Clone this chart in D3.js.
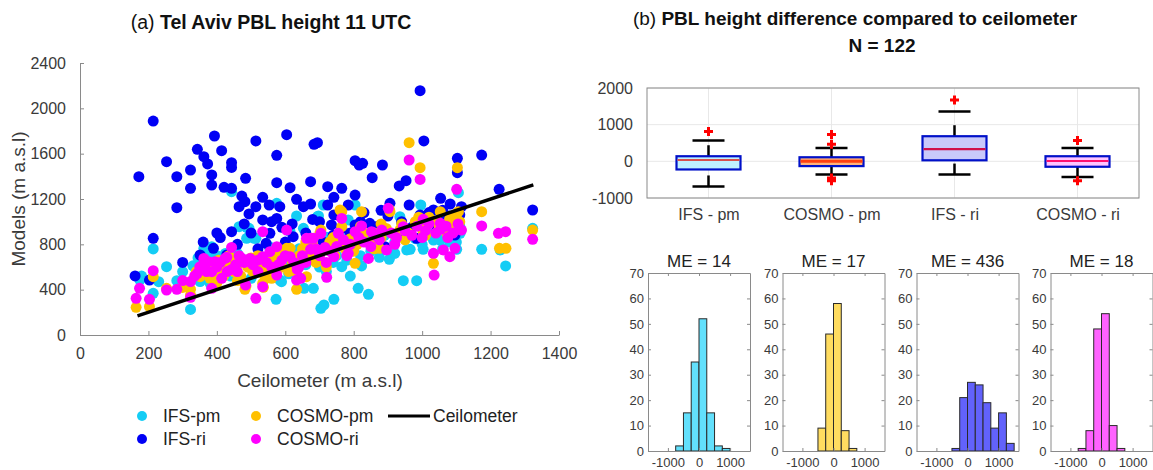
<!DOCTYPE html>
<html>
<head>
<meta charset="utf-8">
<script src="https://cdn.jsdelivr.net/npm/d3@7"></script>
<style>
  body { margin: 0; background: #fff; }
  svg { font-family: "Liberation Sans", Arial, sans-serif; }
</style>
</head>
<body>
<div id="chart"></div>
<script>

//-- Scatter data: [ceilometer, model] in m a.s.l
var ifsPm = [[175,485],[214,759],[214,368],[253,603],[283,479],[323,226],[351,471],[362,765],[385,779],[400,515],
  [365,529],[380,456],[443,1265],[465,956],[487,950],[494,941],[487,853],[509,853],[514,853],[553,779],
  [575,1162],[573,315],[584,485],[589,470],[614,912],[633,1050],[653,941],[655,412],[682,412],[694,1044],
  [697,1050],[704,235],[713,265],[711,1147],[721,862],[742,315],[765,912],[765,603],[784,1015],[804,1147],
  [813,412],[823,609],[843,359],[875,686],[904,668],[935,1044],[945,479],[955,750],[965,756],[984,479],
  [996,1147],[1003,756],[1033,838],[1052,838],[1072,897],[1101,756],[1106,1256],[1111,897],[1174,756],[1228,750],
  [1244,609],[1323,941],[300,560],[330,610],[345,680],[372,700],[395,640],[410,580],[425,720],[455,600],
  [470,680],[500,640],[525,700],[540,560],[560,660],[600,620],[620,700],[640,760],[660,620],[690,720],
  [730,780],[750,700],[770,820],[800,760],[830,860],[860,800],[890,880],[920,820],[960,900],[1010,940],
  [1050,980],[1090,940],[1100,1000],[520,600],[440,520],[350,560],[610,540],[700,600],[780,660],[850,740],
  [920,720],[980,850],[1040,900],[1080,820],[1110,960],[460,720],[400,700],[560,720],[670,800],[740,640],
  [820,700],[880,780],[1000,800],[1060,760],[1100,820],[290,420],[230,470],[180,520],[500,500],[620,580],
  [720,560],[790,520]];

var ifsRi = [[161,521],[172,1397],[214,1888],[214,853],[203,485],[253,1529],[283,1397],[283,1123],[323,1456],[323,1294],
  [343,1638],[362,1573],[373,1509],[385,1412],[385,1323],[393,1756],[414,1626],[421,1303],[443,1294],[443,1520],
  [443,1479],[443,912],[473,1226],[482,1176],[484,1382],[465,1132],[494,1068],[514,1712],[514,1132],[534,1215],
  [534,1015],[553,1147],[575,1585],[575,1344],[575,1029],[584,1132],[604,1768],[614,1300],[633,1197],[643,688],
  [653,1132],[674,1353],[674,1156],[684,1682],[694,1697],[724,1309],[724,1147],[742,1215],[742,1059],[765,1294],
  [784,1147],[804,1235],[804,1538],[816,1500],[826,1515],[804,971],[854,1388],[884,1500],[906,1162],[933,1315],
  [953,1362],[962,1147],[994,2156],[1005,1712],[994,1059],[984,853],[1033,1103],[1054,1206],[1082,1156],[1103,1559],
  [1103,1432],[1115,1132],[1096,1015],[1096,882],[1174,1588],[1225,1285],[1323,1103],[429,706],[390,765],[351,706],
  [544,809],[555,897],[623,868],[735,971],[765,941],[847,985],[891,779],[945,868],[1062,1015],[1043,926],
  [643,662],[300,640],[360,820],[410,860],[460,800],[500,900],[520,760],[590,950],[600,820],[660,900],
  [700,1000],[710,820],[760,1050],[790,900],[830,1080],[870,960],[900,1050],[940,1000],[970,950],[1010,1000],
  [1060,1100],[1080,1050],[1110,1060],[480,980],[560,1000],[680,1020],[820,1000],[880,1100],[1020,1080],[620,980],
  [400,900],[740,880]];

var cosmoPm = [[164,244],[203,250],[214,515],[253,412],[323,353],[323,403],[351,515],[385,515],[382,618],[443,632],
  [443,647],[482,403],[485,432],[514,632],[534,456],[536,421],[553,632],[565,632],[575,544],[604,765],
  [614,765],[633,403],[662,515],[701,897],[704,926],[716,632],[760,1103],[765,1088],[765,956],[804,632],
  [823,1088],[875,765],[904,1109],[906,1088],[935,926],[962,1697],[994,1476],[1003,912],[1033,632],[1053,1088],
  [1072,897],[1103,1476],[1106,1088],[1174,1088],[1226,765],[1245,765],[1323,926],[300,420],[340,560],[360,600],
  [370,640],[395,560],[405,660],[420,600],[435,700],[450,560],[460,620],[475,660],[490,600],[505,560],
  [520,700],[530,650],[545,600],[560,700],[580,680],[590,600],[600,720],[620,650],[640,700],[650,760],
  [670,720],[680,800],[690,640],[720,760],[730,820],[745,700],[755,800],[775,760],[790,850],[810,800],
  [830,900],[850,820],[860,900],[880,860],[895,940],[920,880],[940,980],[960,900],[980,1000],[1000,960],
  [1020,1040],[1045,1000],[1060,960],[1080,1020],[1090,980],[1100,1040],[1110,1000],[470,520],[400,460],[560,500],
  [610,560],[700,700],[800,740],[860,760],[950,840],[1010,880],[1080,920],[720,600],[630,560],[540,520],
  [460,480],[380,500],[420,520],[500,680],[580,760],[660,820],[740,860],[820,960],[880,980],[1050,940],
  [1095,1060],[990,1040]];

var cosmoRi = [[164,324],[174,412],[203,315],[214,568],[253,397],[283,403],[323,332],[323,471],[343,544],[362,676],
  [359,618],[375,647],[385,412],[385,559],[394,647],[414,500],[424,676],[429,686],[443,773],[443,579],
  [473,676],[473,662],[484,441],[497,676],[514,324],[534,912],[534,691],[534,426],[555,735],[575,779],
  [575,529],[604,926],[614,691],[633,485],[635,579],[645,500],[662,853],[674,853],[682,853],[674,756],
  [704,897],[716,773],[721,509],[742,691],[755,897],[765,1029],[784,721],[804,912],[823,962],[843,676],
  [852,912],[882,926],[901,1118],[896,750],[945,956],[962,1544],[994,1373],[1003,1021],[1033,721],[1035,529],
  [1053,985],[1054,932],[1062,750],[1081,691],[1096,765],[1101,1285],[1111,932],[1115,926],[1174,962],[1223,897],
  [1244,912],[1323,844],[300,480],[335,520],[350,600],[370,560],[400,600],[410,640],[430,560],[455,620],
  [465,700],[480,640],[505,620],[520,660],[545,640],[560,600],[590,660],[600,700],[625,640],[650,700],
  [660,640],[690,760],[700,700],[730,740],[750,780],[770,840],[790,800],[815,860],[830,820],[860,880],
  [875,840],[910,900],[925,860],[950,920],[970,880],[985,960],[1010,920],[1020,980],[1040,900],[1070,960],
  [1090,900],[1105,980],[460,560],[520,560],[580,620],[640,600],[720,640],[780,700],[850,780],[920,800],
  [1000,860],[1075,860]];

var ceilRange = [168, 1325];

//-- Box plot data (model - ceilometer)
var boxLabels = ["IFS - pm", "COSMO - pm", "IFS - ri", "COSMO - ri"];
var boxLow    = [-685, -361, -361, -426];
var boxQ1     = [-222, -130,   28, -148];
var boxMedian = [  37,    0,  333,    9];
var boxQ3     = [ 139,  111,  685,  139];
var boxHigh   = [ 565,  361, 1361,  361];
var boxOutliers = [[815], [731, 463, -454, -490, -528], [1676], [565, -528]];

//-- Histogram data (bin width 250)
var histMe = [14, 17, 436, 18];
var histStart = [-750, -500, -500, -750];
var histCounts = [[2, 15, 35, 52, 15, 2, 1],
                  [9, 46, 58, 8, 1],
                  [1, 21, 27, 26, 19, 9, 15, 3],
                  [1, 8, 48, 54, 10, 1]];
var binWidth = 250;

//-- Colors (scatter order: IFS-pm, IFS-ri, COSMO-pm, COSMO-ri; panel order: IFS-pm, COSMO-pm, IFS-ri, COSMO-ri)
var dotColors  = ["#14cdf5", "#0000f5", "#ffc000", "#ff00ff"];
var histColors = ["#62e0fc", "#ffdc60", "#6262fb", "#ff62ff"];
var boxFills   = ["#bff1ff", "#ffb37a", "#c9c9fa", "#ffc4ff"];
var medColors  = ["#d8504c", "#ff4010", "#d0104a", "#ff1070"];

var axisCol = "#8a8a8a", textCol = "#3a3a3a";
var plain = function(d) { return String(d); };

var svg = d3.select("#chart").append("svg")
  .attr("width", 1153).attr("height", 470);

//-- Titles
var t1 = svg.append("text").attr("x", 271).attr("y", 29)
  .attr("text-anchor", "middle").style("font-size", "19.5px").attr("fill", "#111");
t1.append("tspan").text("(a) ");
t1.append("tspan").style("font-weight", "bold").text("Tel Aviv PBL height 11 UTC");

var t2 = svg.append("text").attr("x", 855).attr("y", 25)
  .attr("text-anchor", "middle").style("font-size", "19px").attr("fill", "#111");
t2.append("tspan").text("(b) ");
t2.append("tspan").style("font-weight", "bold").text("PBL height difference compared to ceilometer");

svg.append("text").attr("x", 882).attr("y", 52)
  .attr("text-anchor", "middle").style("font-size", "19px").style("font-weight", "bold")
  .attr("fill", "#111").text("N = 122");

//-- Scatter panel
var sx = d3.scaleLinear().domain([0, 1400]).range([80, 559]);
var sy = d3.scaleLinear().domain([0, 2400]).range([335, 63]);

var gx = svg.append("g").attr("transform", "translate(0,335)")
  .call(d3.axisBottom(sx).tickValues(d3.range(0, 1401, 200)).tickFormat(plain)
    .tickSizeInner(-4).tickSizeOuter(0).tickPadding(13));
var gy = svg.append("g").attr("transform", "translate(80,0)")
  .call(d3.axisLeft(sy).tickValues(d3.range(0, 2401, 400)).tickFormat(plain)
    .tickSizeInner(-4).tickSizeOuter(0).tickPadding(14));
[gx, gy].forEach(function(g) {
  g.selectAll("path, line").attr("stroke", axisCol);
  g.selectAll("text").attr("fill", textCol).style("font-size", "16px");
});

svg.append("text").attr("x", 320).attr("y", 387).attr("text-anchor", "middle")
  .style("font-size", "19px").attr("fill", textCol).text("Ceilometer (m a.s.l)");
svg.append("text").attr("transform", "translate(25,199) rotate(-90)")
  .attr("text-anchor", "middle").style("font-size", "19px").attr("fill", textCol)
  .text("Models (m a.s.l)");

var series = [ifsPm, ifsRi, cosmoPm, cosmoRi];
series.forEach(function(s, i) {
  svg.append("g").selectAll("circle").data(s).enter().append("circle")
    .attr("cx", function(d) { return sx(d[0]); })
    .attr("cy", function(d) { return sy(d[1]); })
    .attr("r", 5.5)
    .attr("fill", dotColors[i]);
});

svg.append("line")
  .attr("x1", sx(ceilRange[0])).attr("y1", sy(ceilRange[0]))
  .attr("x2", sx(ceilRange[1])).attr("y2", sy(ceilRange[1]))
  .attr("stroke", "#000").attr("stroke-width", 3.5);

//-- Legend
var legNames = ["IFS-pm", "IFS-ri", "COSMO-pm", "COSMO-ri"];
var legX = [142, 142, 256, 256], legY = [416, 439, 416, 439];
legNames.forEach(function(n, i) {
  svg.append("circle").attr("cx", legX[i]).attr("cy", legY[i]).attr("r", 5).attr("fill", dotColors[i]);
  svg.append("text").attr("x", legX[i] + 21).attr("y", legY[i] + 6)
    .style("font-size", "17.5px").attr("fill", "#222").text(n);
});
svg.append("line").attr("x1", 388).attr("x2", 430).attr("y1", 416).attr("y2", 416)
  .attr("stroke", "#000").attr("stroke-width", 3);
svg.append("text").attr("x", 433).attr("y", 422)
  .style("font-size", "17.5px").attr("fill", "#222").text("Ceilometer");

//-- Box plot panel
var bx = d3.scaleLinear().domain([0.5, 4.5]).range([647, 1139]);
var by = d3.scaleLinear().domain([-1000, 2000]).range([198, 88]);
var bg = svg.append("g");

bg.selectAll("line.hgrid").data(d3.range(-1000, 2001, 1000)).enter().append("line")
  .attr("x1", 647).attr("x2", 1139)
  .attr("y1", function(d) { return by(d); }).attr("y2", function(d) { return by(d); })
  .attr("stroke", "#e8e8e8");
bg.selectAll("line.vgrid").data(boxLabels).enter().append("line")
  .attr("x1", function(d, i) { return bx(i + 1); }).attr("x2", function(d, i) { return bx(i + 1); })
  .attr("y1", 88).attr("y2", 198).attr("stroke", "#e8e8e8");

bg.append("rect").attr("x", 647).attr("y", 88).attr("width", 492).attr("height", 110)
  .attr("fill", "none").attr("stroke", axisCol);

var gby = bg.append("g").attr("transform", "translate(647,0)")
  .call(d3.axisLeft(by).tickValues(d3.range(-1000, 2001, 1000)).tickFormat(plain)
    .tickSize(0).tickPadding(14));
gby.select("path").remove();
gby.selectAll("text").attr("fill", textCol).style("font-size", "16px");

var gbx = bg.append("g").attr("transform", "translate(0,198)")
  .call(d3.axisBottom(bx).tickValues([1, 2, 3, 4]).tickSize(0).tickPadding(11)
    .tickFormat(function(d) { return boxLabels[d - 1]; }));
gbx.select("path").remove();
gbx.selectAll("text").attr("fill", textCol).style("font-size", "16px");

var boxHalf = 32, capHalf = 16;
boxLabels.forEach(function(n, i) {
  var cx = bx(i + 1);
  // whiskers, dashed, drawn from bottom to top
  [[boxQ3[i], boxHigh[i]], [boxLow[i], boxQ1[i]]].forEach(function(w) {
    bg.append("line").attr("x1", cx).attr("x2", cx)
      .attr("y1", by(w[0])).attr("y2", by(w[1]))
      .attr("stroke", "#000").attr("stroke-width", 2.5).attr("stroke-dasharray", "11,14");
  });
  [boxLow[i], boxHigh[i]].forEach(function(v) {
    bg.append("line").attr("x1", cx - capHalf).attr("x2", cx + capHalf)
      .attr("y1", by(v)).attr("y2", by(v))
      .attr("stroke", "#000").attr("stroke-width", 2.5);
  });
  bg.append("rect").attr("x", cx - boxHalf).attr("y", by(boxQ3[i]))
    .attr("width", boxHalf * 2).attr("height", by(boxQ1[i]) - by(boxQ3[i]))
    .attr("fill", boxFills[i]).attr("stroke", "#0010c8").attr("stroke-width", 2.2);
  bg.append("line").attr("x1", cx - boxHalf + 1).attr("x2", cx + boxHalf - 1)
    .attr("y1", by(boxMedian[i])).attr("y2", by(boxMedian[i]))
    .attr("stroke", medColors[i]).attr("stroke-width", i == 1 ? 3 : 2.2);
  bg.selectAll(null).data(boxOutliers[i]).enter().append("path")
    .attr("d", function(d) {
      var y = by(d);
      return "M" + (cx - 4.5) + "," + y + "H" + (cx + 4.5) + "M" + cx + "," + (y - 4.5) + "V" + (y + 4.5);
    })
    .attr("stroke", "#ff0000").attr("stroke-width", 3);
});

//-- Histogram panels
var panelLeft = [648, 782.5, 916.5, 1050.5], panelW = 102;
var hy = d3.scaleLinear().domain([0, 70]).range([451, 273]);

histCounts.forEach(function(counts, p) {
  var hx = d3.scaleLinear().domain([-1640, 1640]).range([panelLeft[p], panelLeft[p] + panelW]);
  var g = svg.append("g");

  g.selectAll("rect").data(counts).enter().append("rect")
    .attr("x", function(d, i) { return hx(histStart[p] + i * binWidth); })
    .attr("y", function(d) { return hy(d); })
    .attr("width", function(d, i) { return hx(histStart[p] + (i + 1) * binWidth) - hx(histStart[p] + i * binWidth); })
    .attr("height", function(d) { return hy(0) - hy(d); })
    .attr("fill", histColors[p]).attr("stroke", "#2a2a2a").attr("stroke-width", 1);

  var yl = g.append("g").attr("transform", "translate(" + panelLeft[p] + ",0)")
    .call(d3.axisLeft(hy).tickValues(d3.range(0, 71, 10)).tickFormat(plain)
      .tickSizeInner(-3).tickSizeOuter(0).tickPadding(4));
  var yr = g.append("g").attr("transform", "translate(" + (panelLeft[p] + panelW) + ",0)")
    .call(d3.axisRight(hy).tickValues(d3.range(0, 71, 10)).tickSizeInner(-3).tickSizeOuter(0).tickFormat(""));
  var xb = g.append("g").attr("transform", "translate(0,451)")
    .call(d3.axisBottom(hx).tickValues([-1000, 0, 1000]).tickFormat(plain)
      .tickSizeInner(-3).tickSizeOuter(0).tickPadding(7));
  var xt = g.append("g").attr("transform", "translate(0,273)")
    .call(d3.axisTop(hx).tickValues([-1000, 0, 1000]).tickSizeInner(-3).tickSizeOuter(0).tickFormat(""));
  [yl, yr, xb, xt].forEach(function(a) {
    a.selectAll("path, line").attr("stroke", axisCol);
    a.selectAll("text").attr("fill", textCol).style("font-size", "13px");
  });

  g.append("text").attr("x", panelLeft[p] + panelW / 2).attr("y", 267)
    .attr("text-anchor", "middle").style("font-size", "17px").attr("fill", "#222")
    .text("ME = " + histMe[p]);
});

</script>
</body>
</html>
